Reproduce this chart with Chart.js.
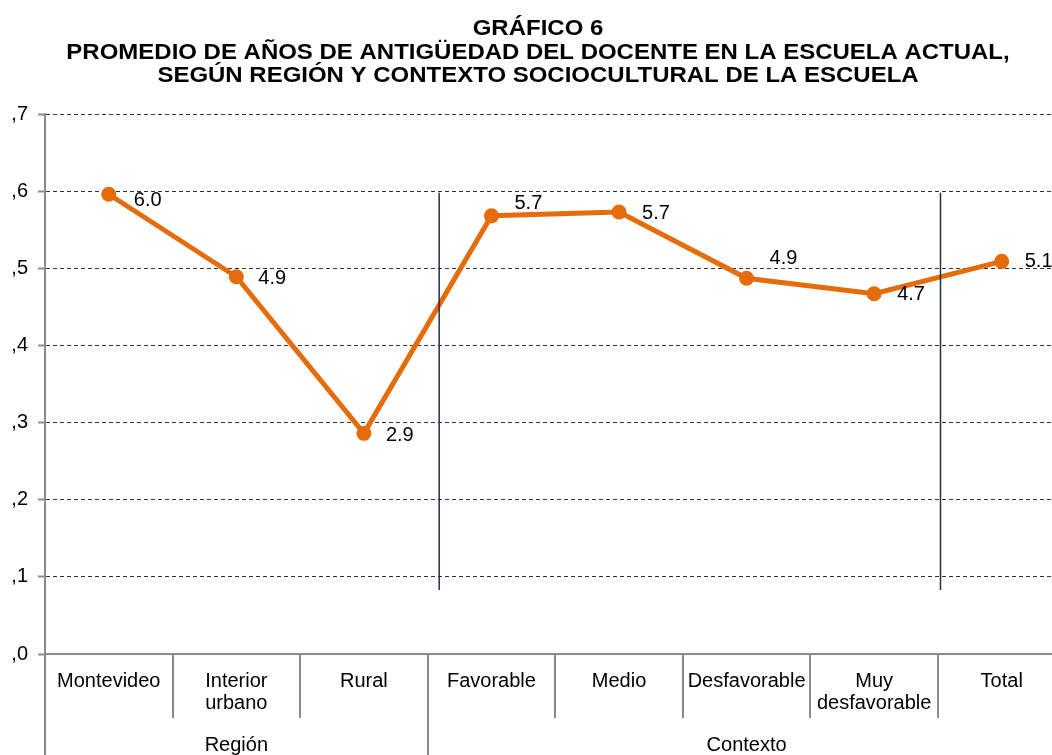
<!DOCTYPE html>
<html>
<head>
<meta charset="utf-8">
<script src="https://cdn.jsdelivr.net/npm/chart.js@4.4.0/dist/chart.umd.min.js"></script>
<style>
  html, body { margin: 0; padding: 0; background: #fff; overflow: hidden; width: 1052px; height: 755px; }
  #wrap { position: absolute; left: 0; top: 0; width: 1073px; height: 755px; }
</style>
</head>
<body>
<div id="wrap"><canvas id="c" width="1073" height="755"></canvas></div>
<script>
// ---- data ----
const categories = [["Montevideo"], ["Interior", "urbano"], ["Rural"], ["Favorable"], ["Medio"], ["Desfavorable"], ["Muy", "desfavorable"], ["Total"]];
const values = [5.96, 4.89, 2.86, 5.68, 5.73, 4.87, 4.67, 5.09];
const yTickLabels = [",0", ",1", ",2", ",3", ",4", ",5", ",6", ",7"];
const groupNames = ["Región", "Contexto"];
const groupSpans = [[0, 2], [3, 7]];
const titleLines = ["GRÁFICO 6", "PROMEDIO DE AÑOS DE ANTIGÜEDAD DEL DOCENTE EN LA ESCUELA ACTUAL,", "SEGÚN REGIÓN Y CONTEXTO SOCIOCULTURAL DE LA ESCUELA"];

// ---- styling helpers (not data) ----
const labelOffsetY = [6, 2, 2, -12, 2, -20, 1, 0];
const labelOffsetX = [25, 22, 22, 23, 23, 23, 23, 23];
const separatorLines = [{ at: 2.59, from: 5.98, to: 0.83 }, { at: 6.52, from: 5.98, to: 0.83 }];
const FONT = '"Liberation Sans", Arial, sans-serif';

const extras = {
  id: 'extras',
  afterDraw(chart) {
    const ctx = chart.ctx;
    const x = chart.scales.x, y = chart.scales.y;
    const area = chart.chartArea;
    ctx.save();
    // title (horizontally stretched bold sans)
    ctx.fillStyle = '#000';
    ctx.font = 'bold 22px ' + FONT;
    ctx.textAlign = 'center';
    ctx.textBaseline = 'alphabetic';
    const baselines = [35, 59, 82];
    const sx = 1.09, cx = 538;
    titleLines.forEach((t, i) => {
      ctx.save();
      ctx.translate(cx, baselines[i]);
      ctx.scale(sx, 1);
      ctx.fillText(t, 0, 0);
      ctx.restore();
    });

    // category separators under axis
    ctx.strokeStyle = '#8c8c8c';
    ctx.lineWidth = 2;
    for (let i = 0; i <= categories.length; i++) {
      const px = Math.round(x.getPixelForValue(i - 0.5));
      const isGroupEdge = groupSpans.some(g => g[0] === i);
      ctx.beginPath();
      ctx.moveTo(px, area.bottom);
      ctx.lineTo(px, isGroupEdge ? 755 : 718);
      ctx.stroke();
    }
    // group labels
    ctx.fillStyle = '#000';
    ctx.font = '20px ' + FONT;
    ctx.textAlign = 'center';
    ctx.textBaseline = 'middle';
    groupNames.forEach((g, i) => {
      const a = x.getPixelForValue(groupSpans[i][0] - 0.5);
      const b = x.getPixelForValue(groupSpans[i][1] + 0.5);
      ctx.fillText(g, (a + b) / 2, 745);
    });

    // vertical separator lines in plot
    ctx.strokeStyle = '#1f2f4d';
    ctx.lineWidth = 1.5;
    separatorLines.forEach(s => {
      const px = x.getPixelForValue(s.at);
      ctx.beginPath();
      ctx.moveTo(px, y.getPixelForValue(s.from));
      ctx.lineTo(px, y.getPixelForValue(s.to));
      ctx.stroke();
    });

    // data labels
    ctx.fillStyle = '#000';
    ctx.font = '20px ' + FONT;
    ctx.textAlign = 'left';
    ctx.textBaseline = 'middle';
    const meta = chart.getDatasetMeta(0);
    meta.data.forEach((pt, i) => {
      ctx.fillText(values[i].toFixed(1), pt.x + labelOffsetX[i], pt.y + labelOffsetY[i]);
    });
    ctx.restore();
  }
};

new Chart(document.getElementById('c'), {
  type: 'line',
  data: {
    labels: categories,
    datasets: [{
      data: values,
      borderColor: '#E46C0A',
      backgroundColor: '#E46C0A',
      borderWidth: 5,
      pointRadius: 7.5,
      pointHoverRadius: 7.5,
      pointBackgroundColor: '#E46C0A',
      pointBorderWidth: 0,
      tension: 0,
      clip: false
    }]
  },
  options: {
    responsive: false,
    animation: false,
    devicePixelRatio: 1,
    layout: { padding: { top: 114, left: 0, right: 0, bottom: 0 } },
    plugins: { legend: { display: false }, title: { display: false }, tooltip: { enabled: false } },
    scales: {
      x: {
        type: 'category',
        offset: true,
        grid: { display: false, offset: true, drawTicks: false },
        border: { display: true, color: '#8c8c8c', width: 2 },
        ticks: { color: '#000', font: { family: FONT, size: 20, lineHeight: 1.1 }, padding: 16, maxRotation: 0, autoSkip: false },
        afterFit(s) { s.height = 101; }
      },
      y: {
        min: 0, max: 7,
        ticks: {
          stepSize: 1,
          color: '#000',
          padding: 10,
          font: { family: FONT, size: 20 },
          callback: (v) => yTickLabels[v]
        },
        grid: {
          color: (c) => c.tick && c.tick.value === 0 ? 'rgba(0,0,0,0)' : '#333',
          tickColor: '#8c8c8c',
          tickBorderDash: [],
          tickLength: 7,
          lineWidth: 1,
          tickWidth: 2
        },
        border: { display: true, color: '#8c8c8c', width: 2, dash: [4, 3] },
        afterFit(s) { s.width = 45; }
      }
    }
  },
  plugins: [extras]
});
</script>
</body>
</html>
